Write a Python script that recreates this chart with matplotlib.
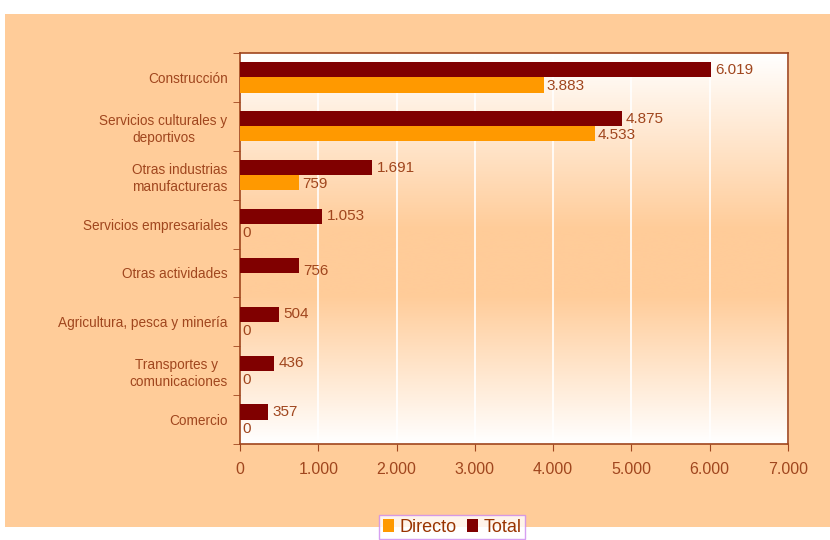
import numpy as np
import matplotlib
matplotlib.use("Agg")
import matplotlib.pyplot as plt
from matplotlib.patches import Rectangle, Patch
from matplotlib.colors import LinearSegmentedColormap

# ── Datos ────────────────────────────────────────────────────────────────────
categorias = [
    "Construcción",
    "Servicios culturales y\ndeportivos",
    "Otras industrias\nmanufactureras",
    "Servicios empresariales",
    "Otras actividades",
    "Agricultura, pesca y minería",
    "Transportes y \ncomunicaciones",
    "Comercio",
]
total   = [6019, 4875, 1691, 1053, 756, 504, 436, 357]
directo = [3883, 4533, 759, 0, None, 0, 0, 0]
x_ticks = [0, 1000, 2000, 3000, 4000, 5000, 6000, 7000]

PEACH  = "#FFCC99"
TXT    = "#A0461E"
SPINE  = "#A0461E"
C_TOT  = "#800000"
C_DIR  = "#FF9900"

plt.rcParams["font.family"] = ["Liberation Sans", "DejaVu Sans"]

def fmt(v):
    return f"{v:,.0f}".replace(",", ".")

fig = plt.figure(figsize=(8.3, 5.4), dpi=100, facecolor="white")
# fondo melocotón
fig.patches.append(Rectangle((5/830, 1 - 527/540), 825/830, (527 - 14)/540,
                             transform=fig.transFigure, facecolor=PEACH,
                             edgecolor="none", zorder=-5))

ax = fig.add_axes([240/830, 1 - 444/540, 548/830, 391/540])
ax.set_facecolor("none")

# degradado vertical del área de trazado: blanco - melocotón - blanco
cmap = LinearSegmentedColormap.from_list(
    "grad", [(0, "white"), (0.45, PEACH), (0.62, PEACH), (1, "white")])
grad = np.linspace(0, 1, 256).reshape(-1, 1)
ax.imshow(grad, cmap=cmap, aspect="auto", extent=(0, 1, 0, 1),
          transform=ax.transAxes, zorder=0, interpolation="bicubic")

n = len(categorias)
y = np.arange(n)[::-1]
h = 0.31

ax.barh(y + h/2, total, height=h, color=C_TOT, zorder=3)
dir_vals = [v if v is not None else 0 for v in directo]
ax.barh(y - h/2, dir_vals, height=h, color=C_DIR, zorder=3)

for yi, v in zip(y, total):
    dy = -0.12 if v == 756 else 0
    ax.annotate(fmt(v), (v, yi + h/2 + dy), xytext=(3, 0), textcoords="offset points",
                ha="left", va="center", color=TXT, fontsize=11, zorder=4)
for yi, v in zip(y, directo):
    if v is None:
        continue
    ax.annotate(fmt(v), (v, yi - h/2), xytext=(2, -1), textcoords="offset points",
                ha="left", va="center", color=TXT, fontsize=11, zorder=4)

ax.set_xlim(0, 7000)
ax.set_ylim(-0.5, n - 0.5)
ax.set_xticks(x_ticks)
ax.set_xticklabels([fmt(v) for v in x_ticks], fontsize=11.5, color=TXT)
ax.tick_params(axis="x", direction="out", length=5, color=SPINE, pad=8)
for xv in x_ticks[1:-1]:
    ax.axvline(xv, color="white", lw=1.2, zorder=1)

ax.set_yticks(y)
ax.set_yticklabels(categorias, fontsize=9.8, color=TXT, multialignment="center",
                   linespacing=1.3)
ax.tick_params(axis="y", length=0, pad=9)
ax.set_yticks(np.arange(-0.5, n, 1), minor=True)
ax.tick_params(axis="y", which="minor", direction="out", length=5, color=SPINE)

for s in ax.spines.values():
    s.set_color(SPINE)
    s.set_linewidth(1.2)

handles = [Patch(facecolor=C_DIR, label="Directo"), Patch(facecolor=C_TOT, label="Total")]
leg = fig.legend(handles=handles, loc="upper center", ncol=2,
                 bbox_to_anchor=(452/830, 1 - 515/540), bbox_transform=fig.transFigure,
                 frameon=True, fancybox=False, handlelength=0.6, handleheight=0.8,
                 handletextpad=0.3, columnspacing=0.6, borderpad=0.2,
                 borderaxespad=0, prop={"size": 13})
leg.get_frame().set_edgecolor("#CC88EE")
leg.get_frame().set_linewidth(1.0)
for t in leg.get_texts():
    t.set_color("#993300")

fig.savefig("out.png", dpi=100, facecolor="white")
